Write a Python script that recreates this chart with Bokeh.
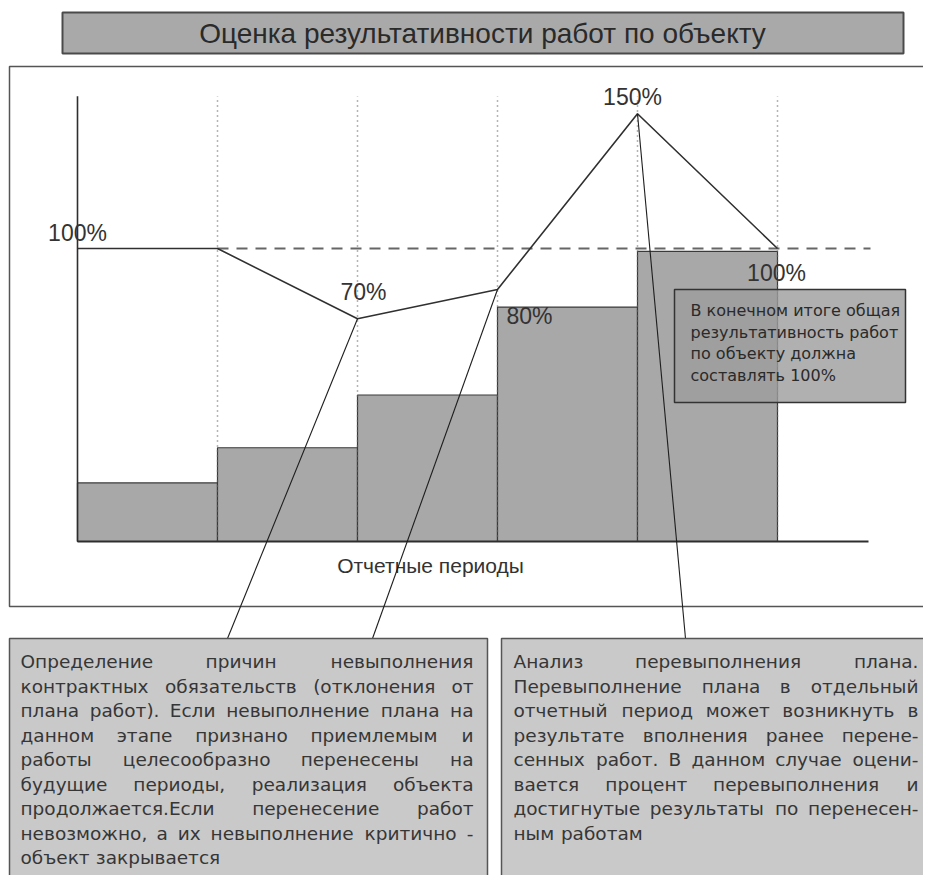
from bokeh.plotting import figure
from bokeh.models import ColumnDataSource
from bokeh.core.properties import value
from bokeh.embed import file_html
from bokeh.resources import INLINE

# ---------------- data ----------------
periods = ["I", "II", "III", "IV", "V"]
bar_values = [20, 32, 50, 80, 99]            # % of plan shown by grey steps
line_x = [0, 1, 2, 3, 4, 5]                  # period boundaries
line_values = [100, 100, 76, 86, 146, 100]    # performance curve
label_index = [0, 2, 3, 4, 5]
point_labels = ["100%", "70%", "80%", "150%", "100%"]
plan_level = 100
axis_top = 152
title_text = "Оценка результативности работ по объекту"
x_axis_label = "Отчетные периоды"
note_lines = ["В конечном итоге общая",
              "результативность работ",
              "по объекту должна",
              "составлять 100%"]
left_box_lines = ["Определение причин невыполнения",
                  "контрактных обязательств (отклонения от",
                  "плана работ). Если невыполнение плана на",
                  "данном этапе признано приемлемым и",
                  "работы целесообразно перенесены на",
                  "будущие периоды, реализация объекта",
                  "продолжается.Если перенесение работ",
                  "невозможно, а их невыполнение критично -",
                  "объект закрывается"]
right_box_lines = ["Анализ перевыполнения плана.",
                   "Перевыполнение плана в отдельный",
                   "отчетный период может возникнуть в",
                   "результате вполнения ранее перене-",
                   "сенных работ. В данном случае оцени-",
                   "вается процент перевыполнения и",
                   "достигнутые результаты по перенесен-",
                   "ным работам"]

# ---------------- layout helpers (page pixels -> data) ----------------
X0, XS = 77.0, 140.0     # page x of period 0, pixels per period
Y0, YS = 541.0, 2.93     # page y of 0 %, pixels per percent
OFF = 0                  # page offset of the canvas


def X(px):
    return (px - X0) / XS


def Y(py):
    return (Y0 - py) / YS


W, H = 923, 875
p = figure(width=W, height=H, x_range=(X(OFF), X(OFF + W)), y_range=(Y(OFF + H), Y(OFF)),
           x_axis_type=None, y_axis_type=None, toolbar_location=None,
           output_backend="svg", min_border=0, outline_line_color=None,
           background_fill_color="white", border_fill_color="white")
p.xgrid.visible = False
p.ygrid.visible = False

DARK = "#2e2e2e"

# outer frame of the chart
p.quad(left=[X(9)], right=[X(960)], top=[Y(66)], bottom=[Y(606)],
       fill_color="white", line_color="#555555", line_width=1.5)

# title box
p.quad(left=[X(62)], right=[X(903)], top=[Y(12)], bottom=[Y(53)],
       fill_color="#a9a9a9", line_color="#4a4a4a", line_width=2)
p.text(x=[X(482)], y=[Y(33)], text=[title_text], text_align="center",
       text_baseline="middle", text_font=value("Liberation Sans"),
       text_font_size="28px", text_color="#2a2a2a")

# bars
bar_src = ColumnDataSource(dict(
    left=[i for i in range(len(periods))],
    right=[i + 1 for i in range(len(periods))],
    top=bar_values,
    bottom=[0] * len(periods)))
p.quad(left="left", right="right", top="top", bottom="bottom", source=bar_src,
       fill_color="#a8a8a8", line_color="#3a3a3a", line_width=1.2)

# dotted period separators
sep_x = line_x[1:]
p.segment(x0=sep_x, y0=[0] * len(sep_x), x1=sep_x, y1=[axis_top] * len(sep_x),
          line_color="#6a6a6a", line_width=1.5, line_dash="1 4")

# plan level (dashed)
p.segment(x0=[line_x[1]], y0=[plan_level], x1=[X(870)], y1=[plan_level],
          line_color="#666666", line_width=2.2, line_dash="11 8")

# axes
p.segment(x0=[0], y0=[0], x1=[0], y1=[axis_top], line_color=DARK, line_width=1.6)
p.segment(x0=[0], y0=[0], x1=[X(868)], y1=[0], line_color=DARK, line_width=2.2)
p.text(x=[X(430)], y=[Y(565)], text=[x_axis_label], text_align="center",
       text_baseline="middle", text_font=value("Liberation Sans"),
       text_font_size="21px", text_color="#333333")

# performance curve
p.line(x=line_x, y=line_values, line_color="#303030", line_width=1.6)

# callout lines to explanation boxes
call_from = [2, 3, 4]
call_to_px = [227, 372, 685]
p.segment(x0=[line_x[i] for i in call_from], y0=[line_values[i] for i in call_from],
          x1=[X(px) for px in call_to_px], y1=[Y(638)] * 3,
          line_color="#1e1e1e", line_width=1.1)

# note box
p.quad(left=[X(674)], right=[X(905)], top=[Y(289)], bottom=[Y(402)],
       fill_color="#9c9c9c", fill_alpha=0.8, line_color="#333333", line_width=1.5)
p.text(x=[X(690)] * len(note_lines), y=[Y(310 + 21.5 * i) for i in range(len(note_lines))],
       text=note_lines, text_align="left", text_baseline="middle",
       text_font=value("DejaVu Sans"), text_font_size="16px", text_color="#2a2a2a")

# point labels
lab_src = ColumnDataSource(dict(
    x=[line_x[i] for i in label_index],
    y=[line_values[i] for i in label_index],
    t=point_labels,
    dx=[0, 6, 32, -5, -1],
    dy=[-16, -27, 26, -17, 24]))
p.text(x="x", y="y", text="t", x_offset="dx", y_offset="dy", source=lab_src,
       text_align="center", text_baseline="middle",
       text_font=value("Liberation Sans"), text_font_size="23px", text_color="#333333")

# explanation boxes
p.quad(left=[X(9), X(501)], right=[X(487), X(960)], top=[Y(638), Y(638)],
       bottom=[Y(900), Y(900)], fill_color="#c9c9c9", line_color="#555555",
       line_width=1.5)

CW = {'а': .613, 'б': .617, 'в': .589, 'г': .499, 'д': .678, 'е': .615, 'ж': .877,
      'з': .525, 'и': .652, 'й': .652, 'к': .599, 'л': .652, 'м': .754, 'н': .652,
      'о': .612, 'п': .652, 'р': .635, 'с': .550, 'т': .574, 'у': .592, 'ф': .973,
      'х': .592, 'ц': .661, 'ч': .618, 'ш': .935, 'щ': .947, 'ъ': .735, 'ы': .837,
      'ь': .616, 'э': .550, 'ю': .877, 'я': .601, 'А': .684, 'Б': .686, 'В': .686,
      'Е': .632, 'О': .787, 'П': .752, 'И': .748, 'Н': .752, 'Р': .603, 'С': .698,
      'Т': .611, 'К': .680, '.': .318, ',': .318, '(': .390, ')': .390, '-': .361,
      '%': .950}


def em(word):
    return sum(CW.get(c, .636) for c in word)


def justified(lines, left, right, y_first, dy, fs_max):
    width = right - left
    fs = fs_max
    for ln in lines[:-1]:
        ws = ln.split()
        if len(ws) > 1:
            fs = min(fs, width / (sum(em(w) for w in ws) + 0.3 * (len(ws) - 1)))
    lx, ly, lt, rx, ry, rt = [], [], [], [], [], []
    for i, ln in enumerate(lines):
        ws = ln.split()
        py = y_first + dy * i
        last = (i == len(lines) - 1) or len(ws) == 1
        wid = [em(w) * fs for w in ws]
        gap = 0.318 * fs if last else (width - sum(wid)) / (len(ws) - 1)
        cx = left
        for j, (w, ww) in enumerate(zip(ws, wid)):
            if not last and j == len(ws) - 1:
                rx.append(X(right)); ry.append(Y(py)); rt.append(w)
            else:
                lx.append(X(cx)); ly.append(Y(py)); lt.append(w)
            cx += ww + gap
    return fs, (lx, ly, lt), (rx, ry, rt)


for lines, l, r in [(left_box_lines, 20, 473), (right_box_lines, 513, 918)]:
    fs, L, R = justified(lines, l, r, 661, 24.5, 18.5)
    for (xs, ys, ts), al in [(L, "left"), (R, "right")]:
        p.text(x=xs, y=ys, text=ts, text_align=al, text_baseline="middle",
               text_font=value("DejaVu Sans"), text_font_size=f"{fs:.1f}px",
               text_color="#363636")

open("out.html", "w").write(file_html(p, INLINE))
